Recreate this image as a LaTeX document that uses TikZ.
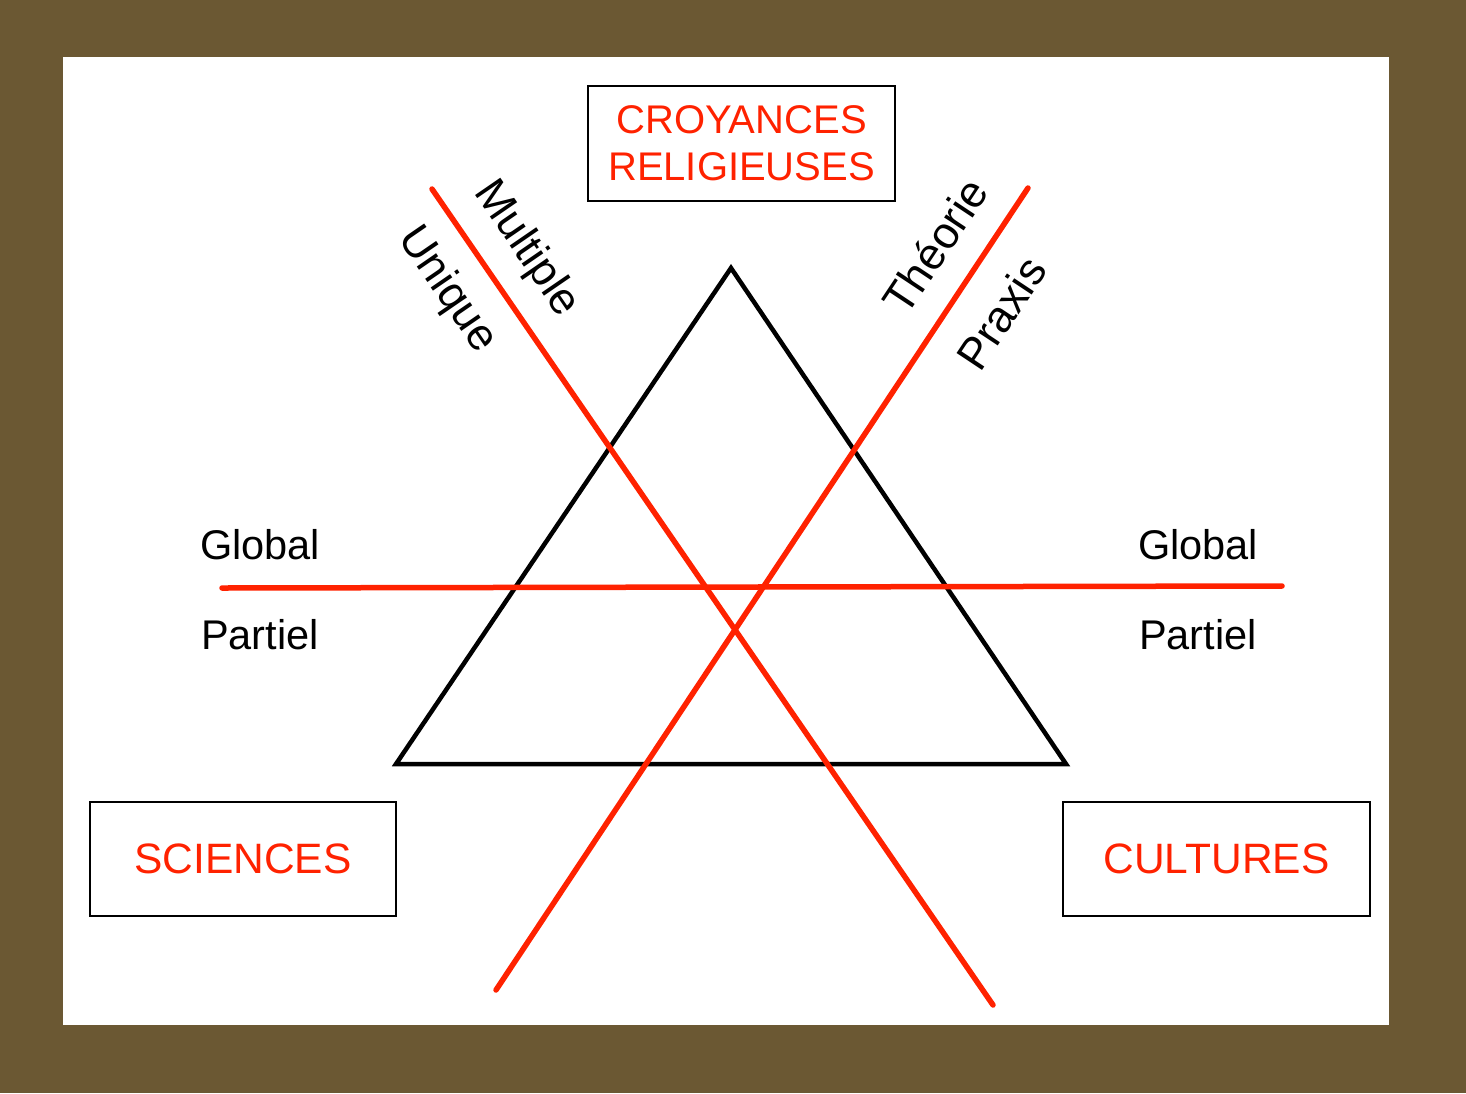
\documentclass[tikz,border=0pt]{standalone}
\usepackage{fontspec}
\setmainfont{Liberation Sans}
\definecolor{bgbrown}{HTML}{6B5833}
\definecolor{lred}{HTML}{FF2200}
\begin{document}
\begin{tikzpicture}[x=1pt,y=-1pt,
  box/.style={draw=black,line width=1.8pt,fill=white,text=lred,font=\fontsize{40}{47}\selectfont,align=center,inner sep=0pt},
  lbl/.style={text=black,font=\fontsize{41.5}{48}\selectfont,inner sep=0pt},
  rlbl/.style={text=black,font=\fontsize{44.5}{50}\selectfont,inner sep=0pt},
  redline/.style={draw=lred,line width=5.5pt,line cap=round},
  tri/.style={draw=black,line width=4.5pt,line join=miter}]
\fill[bgbrown] (0,0) rectangle (1466,1093);
\fill[white] (63,57) rectangle (1389,1025);
% triangle
\coordinate (A) at (731,268);
\coordinate (B) at (396,764);
\coordinate (C) at (1066,764);
\draw[tri] (A) -- (B) -- (C) -- cycle;
% red lines
\coordinate (l1a) at (432,189);
\coordinate (l1b) at (993,1005);
\coordinate (l2a) at (1028,188);
\coordinate (l2b) at (496,990);
\coordinate (l3a) at (222,588);
\coordinate (l3b) at (1282,586);
\draw[redline] (l1a) -- (l1b);
\draw[redline] (l2a) -- (l2b);
\draw[redline] (l3a) -- (l3b);
% boxes
\node[box,minimum width=307pt,minimum height=115pt] (croy) at (741.5,143.5) {CROYANCES\\RELIGIEUSES};
\node[box,minimum width=306pt,minimum height=114pt,font=\fontsize{42.5}{48}\selectfont] (sci) at (243,859) {SCIENCES};
\node[box,minimum width=307pt,minimum height=114pt,font=\fontsize{42.5}{48}\selectfont] (cult) at (1216.5,859) {CULTURES};
% labels
\node[lbl] (g1) at (260,545) {Global};
\node[lbl] (p1) at (260,635) {Partiel};
\node[lbl] (g2) at (1198,545) {Global};
\node[lbl] (p2) at (1198,635) {Partiel};
\node[rlbl,rotate=-55.5] (mul) at (526,249) {Multiple};
\node[rlbl,rotate=-55.5] (uni) at (447,290) {Unique};
\node[rlbl,rotate=56.4] (the) at (935,246) {Théorie};
\node[rlbl,rotate=56.4] (pra) at (1001,313) {Praxis};
\end{tikzpicture}
\end{document}
